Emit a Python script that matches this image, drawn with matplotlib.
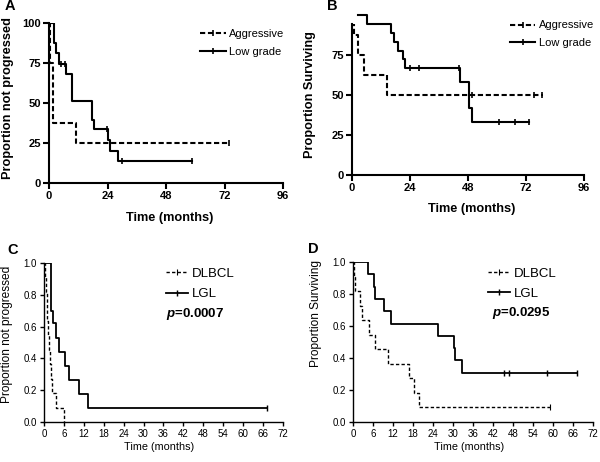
import numpy as np
import matplotlib
matplotlib.use("Agg")
import matplotlib.pyplot as plt
from matplotlib.lines import Line2D

plt.rcParams['font.family'] = ['Liberation Sans', 'DejaVu Sans']
plt.rcParams['mathtext.fontset'] = 'custom'
plt.rcParams['mathtext.it'] = 'Liberation Sans:italic:bold'

# ---- data ----
# A: progression, aggressive vs low grade
a_aggr_t = [0, 0.5, 1.7, 11]
a_aggr_s = [100, 75, 37.5, 25]
a_aggr_end = 74
a_aggr_cens = [74]
a_low_t = [0, 2, 3, 4, 7, 9.5, 17.5, 18.5, 24, 25, 28.5]
a_low_s = [100, 87.5, 81, 74.5, 68, 51, 39.5, 34, 27, 20, 13.5]
a_low_end = 58.5
a_low_cens = [5, 6.5, 23.8, 30, 58.5]

# B: survival, aggressive vs low grade
b_aggr_t = [0, 1, 2.3, 5, 14.4]
b_aggr_s = [100, 87.5, 75, 62.5, 50]
b_aggr_end = 79
b_aggr_cens = [49.7, 75.5, 78.5]
b_low_t = [2.3, 6.1, 16.2, 17.4, 18.9, 21.3, 22, 44.5, 48.2, 49.6]
b_low_s = [100, 94.4, 88.9, 83.3, 77.8, 72.2, 66.7, 58.3, 41.7, 33.3]
b_low_end = 73.4
b_low_cens = [23.8, 27.8, 44.3, 61, 67.5, 73.4]

# C: progression, DLBCL vs LGL
c_dlbcl_t = [0, 0.2, 0.5, 0.8, 1.0, 1.3, 1.5, 1.8, 2.0, 2.3, 3.5, 6.0]
c_dlbcl_s = [1, .909, .818, .727, .636, .545, .455, .364, .273, .182, .091, 0]
c_dlbcl_end = 6.0
c_lgl_t = [0, 2.0, 2.8, 3.5, 4.5, 6.3, 7.6, 10.6, 13.4]
c_lgl_s = [1, .70, .62, .53, .44, .355, .265, .175, .088]
c_lgl_end = 67.2
c_lgl_cens = [67.2]

# D: survival, DLBCL vs LGL
d_dlbcl_t = [0, 0.3, 0.7, 2.0, 2.7, 4.7, 6.5, 10.5, 16.8, 18.3, 19.7]
d_dlbcl_s = [1, .909, .818, .727, .636, .545, .455, .364, .273, .182, .091]
d_dlbcl_end = 59.1
d_dlbcl_cens = [59.1]
d_lgl_t = [0, 4.5, 6.3, 6.7, 9.3, 11.5, 25.5, 30.3, 30.7, 32.6]
d_lgl_s = [1, .923, .846, .769, .692, .615, .538, .462, .385, .308]
d_lgl_end = 67.3
d_lgl_cens = [45.4, 46.9, 58.3, 67.3]

p_c = "0.0007"
p_d = "0.0295"


def km(ax, t, s, end, cens, dashes, lw, clip=True, msize=5):
    tt = list(t) + [end]
    ss = list(s) + [s[-1]]
    line, = ax.step(tt, ss, where='post', color='black', lw=lw, clip_on=clip)
    if dashes:
        line.set_dashes(dashes)
    if cens:
        idx = np.searchsorted(t, cens, side='right') - 1
        cy = np.array(s)[idx]
        ax.plot(cens, cy, ls='none', marker='|', color='black',
                markersize=msize, mew=lw * 0.8, clip_on=False)


def style_axes(ax, bold, lw, ticklen, tickfs):
    for side in ['top', 'right']:
        ax.spines[side].set_visible(False)
    for side in ['left', 'bottom']:
        ax.spines[side].set_linewidth(lw)
    ax.tick_params(direction='out', length=ticklen, width=lw, labelsize=tickfs, pad=2)
    for lab in ax.get_xticklabels() + ax.get_yticklabels():
        lab.set_fontweight('bold' if bold else 'normal')


def labels(ax, xl, yl, fs_x, fs_y, weight, xc, yc):
    ax.set_xlabel(xl, fontsize=fs_x, fontweight=weight, va='center')
    ax.set_ylabel(yl, fontsize=fs_y, fontweight=weight, va='center')
    ax.xaxis.set_label_coords(*xc)
    ax.yaxis.set_label_coords(*yc)


fig = plt.figure(figsize=(6, 4.62), dpi=100)

# ---------- A ----------
axA = fig.add_axes([0.0817, 0.6039, 0.39, 0.3463])
km(axA, a_aggr_t, a_aggr_s, a_aggr_end, a_aggr_cens, (2.5, 1.3), 1.5)
km(axA, a_low_t, a_low_s, a_low_end, a_low_cens, None, 1.5)
axA.set_xlim(0, 96)
axA.set_ylim(0, 100)
axA.set_xticks([0, 24, 48, 72, 96])
axA.set_yticks([0, 25, 50, 75, 100])
style_axes(axA, True, 1.5, 4, 8)
labels(axA, "Time (months)", "Proportion not progressed", 9.2, 9.2, 'bold',
       (0.516, -0.217), (-0.175, 0.53))

# ---------- B ----------
axB = fig.add_axes([0.5867, 0.6212, 0.3867, 0.3266])
km(axB, b_aggr_t, b_aggr_s, b_aggr_end, b_aggr_cens, (2.5, 1.3), 1.5)
km(axB, b_low_t, b_low_s, b_low_end, b_low_cens, None, 1.5, clip=False)
axB.set_xlim(0, 96)
axB.set_ylim(0, 94.3)
axB.set_xticks([0, 24, 48, 72, 96])
axB.set_yticks([0, 25, 50, 75])
style_axes(axB, True, 1.5, 4, 8)
labels(axB, "Time (months)", "Proportion Surviving", 9.2, 9.2, 'bold',
       (0.517, -0.225), (-0.181, 0.53))

# ---------- C ----------
axC = fig.add_axes([0.0733, 0.0866, 0.3983, 0.3442])
km(axC, c_dlbcl_t, c_dlbcl_s, c_dlbcl_end, [], (2.4, 1.6), 1.0)
km(axC, c_lgl_t, c_lgl_s, c_lgl_end, c_lgl_cens, None, 1.3, msize=4)
axC.set_xlim(0, 72)
axC.set_ylim(0, 1)
axC.set_xticks(np.arange(0, 73, 6))
axC.set_yticks(np.arange(0, 1.01, 0.2))
axC.yaxis.set_major_formatter(matplotlib.ticker.FormatStrFormatter('%.1f'))
style_axes(axC, False, 1.0, 3, 7)
labels(axC, "Time (months)", "Proportion not progressed", 7.8, 8.6, 'normal',
       (0.481, -0.157), (-0.155, 0.553))

# ---------- D ----------
axD = fig.add_axes([0.5883, 0.0866, 0.4, 0.3463])
km(axD, d_dlbcl_t, d_dlbcl_s, d_dlbcl_end, d_dlbcl_cens, (2.4, 1.6), 1.0)
km(axD, d_lgl_t, d_lgl_s, d_lgl_end, d_lgl_cens, None, 1.3, msize=4)
axD.set_xlim(0, 72)
axD.set_ylim(0, 1)
axD.set_xticks(np.arange(0, 73, 6))
axD.set_yticks(np.arange(0, 1.01, 0.2))
axD.yaxis.set_major_formatter(matplotlib.ticker.FormatStrFormatter('%.1f'))
style_axes(axD, False, 1.0, 3, 7)
labels(axD, "Time (months)", "Proportion Surviving", 7.8, 8.6, 'normal',
       (0.485, -0.156), (-0.154, 0.675))


# ---------- legends ----------
def legend(ax, labels, dashes, lw, fs, anchor, hl, spacing):
    hs = []
    for d, w in zip(dashes, lw):
        h = Line2D([], [], color='black', lw=w, marker='|', markersize=4, mew=w * 0.8)
        if d:
            h.set_dashes(d)
        hs.append(h)
    ax.legend(hs, labels, loc='upper left', bbox_to_anchor=anchor, frameon=False,
              fontsize=fs, handlelength=hl, handletextpad=0.3, labelspacing=spacing,
              borderpad=0, borderaxespad=0)


legend(axA, ["Aggressive", "Low grade"], [(2.5, 1.3), None], [1.5, 1.5], 8,
       (0.645, 0.965), 2.3, 0.75)
legend(axB, ["Aggressive", "Low grade"], [(2.5, 1.3), None], [1.5, 1.5], 8,
       (0.68, 1.024), 2.3, 0.7)
legend(axC, ["DLBCL", "LGL"], [(2.4, 1.6), None], [1.0, 1.3], 9.5,
       (0.51, 0.97), 1.7, 0.6)
legend(axD, ["DLBCL", "LGL"], [(2.4, 1.6), None], [1.0, 1.3], 9.5,
       (0.562, 0.967), 1.7, 0.6)

axC.text(0.51, 0.679, r'$\it{p}$=' + p_c, transform=axC.transAxes,
         fontsize=9.5, fontweight='bold', va='center')
axD.text(0.579, 0.681, r'$\it{p}$=' + p_d, transform=axD.transAxes,
         fontsize=9.5, fontweight='bold', va='center')

# panel letters
for lab, x, y in [("A", 5, 6), ("B", 327, 6), ("C", 7, 250), ("D", 308, 249)]:
    fig.text(x / 600, 1 - y / 462, lab, fontsize=10.5, fontweight='bold', va='center', ha='left')

fig.savefig("out.png", dpi=100)
